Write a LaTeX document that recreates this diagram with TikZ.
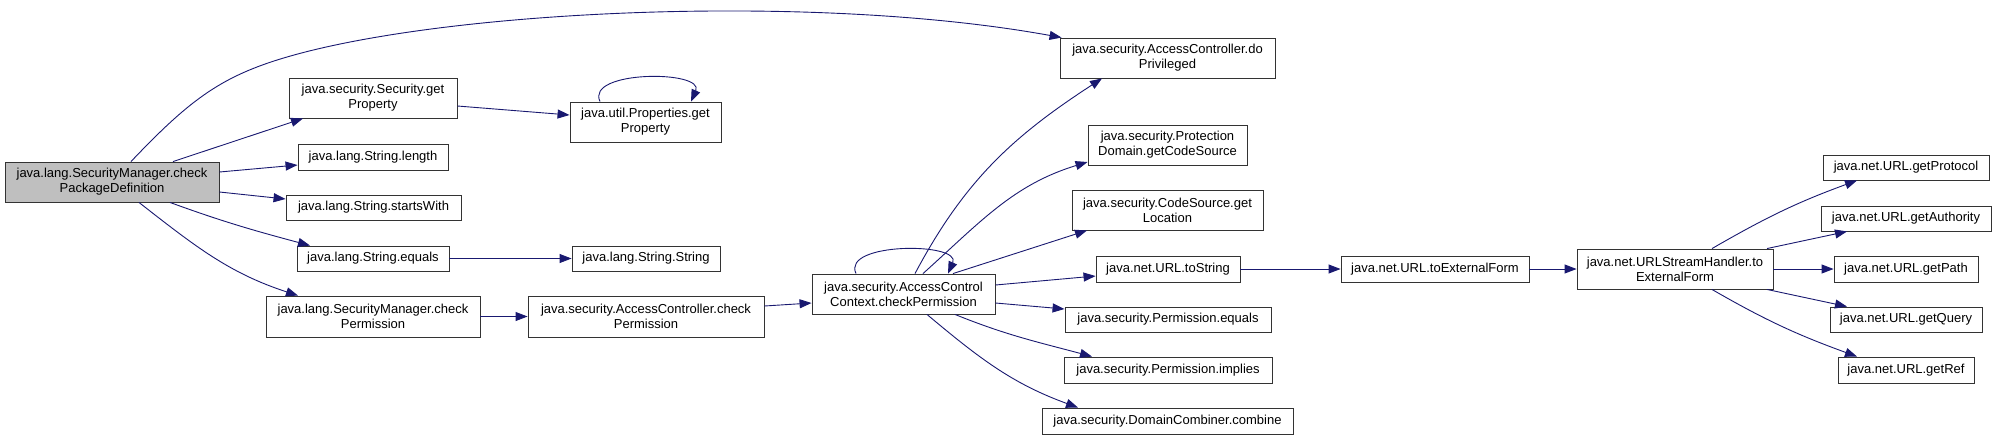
\documentclass[tikz,border=0pt]{standalone}
\usepackage{fontspec}
\setmainfont{Liberation Sans}
\usetikzlibrary{arrows.meta}
\definecolor{edgecol}{HTML}{191970}
\definecolor{rootfill}{HTML}{BFBFBF}
\definecolor{boxline}{HTML}{333333}
\tikzset{
  fn/.style={draw=boxline, line width=0.9pt, fill=white, inner sep=0pt, align=center,
    font=\fontsize{13}{15}\selectfont},
  rootfn/.style={fn, fill=rootfill},
  call/.style={draw=edgecol, line width=0.9pt, -{Triangle[length=12pt,width=9pt]}},
}
\begin{document}
\begin{tikzpicture}[x=1pt,y=1pt]
\useasboundingbox (0,0) rectangle (1996,-440);
% nodes
\node[rootfn, minimum width=214pt, minimum height=40pt] (root) at (112,-182) {java.lang.SecurityManager.check\\PackageDefinition};
\node[fn, minimum width=168pt, minimum height=40pt] (secgp) at (373,-98) {java.security.Security.get\\Property};
\node[fn, minimum width=150pt, minimum height=26pt] (strlen) at (373,-157) {java.lang.String.length};
\node[fn, minimum width=175pt, minimum height=25pt] (strsw) at (373.5,-207.5) {java.lang.String.startsWith};
\node[fn, minimum width=152pt, minimum height=25pt] (streq) at (373,-258.5) {java.lang.String.equals};
\node[fn, minimum width=214pt, minimum height=41pt] (smcp) at (373,-316.5) {java.lang.SecurityManager.check\\Permission};
\node[fn, minimum width=151pt, minimum height=40pt] (propgp) at (645.5,-122) {java.util.Properties.get\\Property};
\node[fn, minimum width=148pt, minimum height=25pt] (strstr) at (646,-258.5) {java.lang.String.String};
\node[fn, minimum width=236pt, minimum height=41pt] (accp) at (646,-316.5) {java.security.AccessController.check\\Permission};
\node[fn, minimum width=183pt, minimum height=40pt] (acccp) at (903.5,-294) {java.security.AccessControl\\Context.checkPermission};
\node[fn, minimum width=215pt, minimum height=40pt] (dopriv) at (1167.5,-58) {java.security.AccessController.do\\Privileged};
\node[fn, minimum width=159pt, minimum height=40pt] (pdgcs) at (1167.5,-145) {java.security.Protection\\Domain.getCodeSource};
\node[fn, minimum width=191pt, minimum height=40pt] (csgl) at (1167.5,-210) {java.security.CodeSource.get\\Location};
\node[fn, minimum width=144pt, minimum height=26pt] (urlts) at (1168,-269) {java.net.URL.toString};
\node[fn, minimum width=206pt, minimum height=25pt] (permeq) at (1168,-319.5) {java.security.Permission.equals};
\node[fn, minimum width=208pt, minimum height=26pt] (permimp) at (1168,-370) {java.security.Permission.implies};
\node[fn, minimum width=251pt, minimum height=26pt] (dccomb) at (1167.5,-421) {java.security.DomainCombiner.combine};
\node[fn, minimum width=188pt, minimum height=26pt] (urltef) at (1435,-269) {java.net.URL.toExternalForm};
\node[fn, minimum width=196pt, minimum height=40pt] (ush) at (1675,-269) {java.net.URLStreamHandler.to\\ExternalForm};
\node[fn, minimum width=166pt, minimum height=25pt] (gprot) at (1906,-167.5) {java.net.URL.getProtocol};
\node[fn, minimum width=170pt, minimum height=25pt] (gauth) at (1906,-218.5) {java.net.URL.getAuthority};
\node[fn, minimum width=144pt, minimum height=26pt] (gpath) at (1906,-269) {java.net.URL.getPath};
\node[fn, minimum width=152pt, minimum height=25pt] (gquery) at (1906,-319.5) {java.net.URL.getQuery};
\node[fn, minimum width=136pt, minimum height=26pt] (gref) at (1906,-370) {java.net.URL.getRef};
% edges
\draw[call] ([xshift=19pt]root.north) .. controls (180,-110) and (210,-85) .. (257,-67)
  .. controls (400,-12) and (800,10) .. ([xshift=2pt]dopriv.north west);
\draw[call] ([xshift=61pt]root.north) -- ([xshift=-70pt]secgp.south);
\draw[call] ([yshift=10pt]root.east) -- ([yshift=-8pt]strlen.west);
\draw[call] ([yshift=-10pt]root.east) -- ([yshift=8.5pt]strsw.west);
\draw[call] ([xshift=58pt]root.south) to[out=-20,in=165] ([xshift=-63pt]streq.north);
\draw[call] ([xshift=27pt]root.south) to[out=-38,in=162] ([xshift=-75pt]smcp.north);
\draw[call] ([yshift=-8pt]secgp.east) -- ([yshift=7pt]propgp.west);
\draw[call] ([xshift=-45.5pt]propgp.north) .. controls (585,-70) and (705,-70) .. ([xshift=45.5pt]propgp.north);
\draw[call] (streq.east) -- (strstr.west);
\draw[call] (smcp.east) -- (accp.west);
\draw[call] ([yshift=10.5pt]accp.east) -- ([yshift=-9pt]acccp.west);
\draw[call] ([xshift=-47.5pt]acccp.north) .. controls (841,-242) and (962,-242) .. ([xshift=44.5pt]acccp.north);
\draw[call] ([xshift=11.5pt]acccp.north) to[out=62,in=213] ([xshift=-65.5pt]dopriv.south);
\draw[call] ([xshift=19.5pt]acccp.north) to[out=42,in=197] ([yshift=-17pt]pdgcs.west);
\draw[call] ([xshift=49.5pt]acccp.north) -- ([xshift=-80.5pt]csgl.south);
\draw[call] ([yshift=9pt]acccp.east) -- ([yshift=-7pt]urlts.west);
\draw[call] ([yshift=-9pt]acccp.east) -- ([yshift=10.5pt]permeq.west);
\draw[call] ([xshift=51.5pt]acccp.south) to[out=-22,in=165] ([xshift=-76pt]permimp.north);
\draw[call] ([xshift=23.5pt]acccp.south) to[out=-40,in=160] ([xshift=-89.5pt]dccomb.north);
\draw[call] (urlts.east) -- (urltef.west);
\draw[call] (urltef.east) -- (ush.west);
\draw[call] ([xshift=37pt]ush.north) to[out=30,in=200] ([xshift=-49pt]gprot.south);
\draw[call] ([xshift=92pt]ush.north) -- ([xshift=-59pt]gauth.south);
\draw[call] (ush.east) -- (gpath.west);
\draw[call] ([xshift=92pt]ush.south) -- ([xshift=-59pt]gquery.north);
\draw[call] ([xshift=37pt]ush.south) to[out=-30,in=160] ([xshift=-49pt]gref.north);
\end{tikzpicture}
\end{document}
